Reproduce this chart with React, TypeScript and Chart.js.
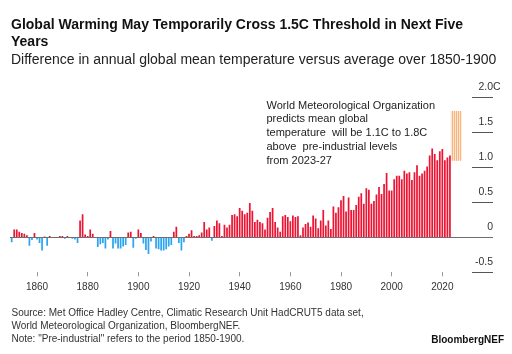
import React, { useEffect, useRef } from "react";
import { Chart, registerables } from "chart.js";

Chart.register(...registerables);

const FONT = '"Liberation Sans", Arial, sans-serif';

const FIRST_YEAR = 1850;
// Annual anomaly vs 1850-1900 average, 1850..2023
const anomalies: number[] = [
  -0.07, 0.11, 0.11, 0.08, 0.06, 0.05, 0.03, -0.12, -0.04, 0.06,
  -0.03, -0.08, -0.19, 0.01, -0.12, 0.02, 0.0, -0.01, 0.0, 0.02,
  0.02, -0.02, 0.02, -0.01, -0.02, -0.03, -0.08, 0.24, 0.33, 0.04,
  0.02, 0.11, 0.05, 0.0, -0.14, -0.1, -0.08, -0.16, -0.03, 0.09,
  -0.16, -0.09, -0.16, -0.16, -0.13, -0.11, 0.07, 0.08, -0.15, -0.02,
  0.11, 0.06, -0.09, -0.18, -0.24, -0.06, 0.02, -0.16, -0.17, -0.19,
  -0.19, -0.17, -0.13, -0.11, 0.08, 0.15, -0.08, -0.19, -0.07, 0.02,
  0.05, 0.1, 0.02, 0.02, 0.03, 0.07, 0.22, 0.11, 0.14, -0.05,
  0.16, 0.24, 0.2, 0.02, 0.18, 0.14, 0.18, 0.32, 0.33, 0.3,
  0.42, 0.38, 0.33, 0.35, 0.49, 0.38, 0.22, 0.25, 0.22, 0.2,
  0.11, 0.28, 0.36, 0.42, 0.22, 0.14, 0.08, 0.3, 0.32, 0.29,
  0.23, 0.31, 0.29, 0.3, 0.03, 0.14, 0.19, 0.21, 0.15, 0.31,
  0.27, 0.13, 0.24, 0.39, 0.17, 0.24, 0.12, 0.44, 0.35, 0.43,
  0.53, 0.59, 0.37, 0.57, 0.39, 0.39, 0.46, 0.58, 0.63, 0.48,
  0.7, 0.68, 0.48, 0.52, 0.61, 0.72, 0.62, 0.76, 0.92, 0.67,
  0.67, 0.83, 0.88, 0.88, 0.83, 0.95, 0.91, 0.93, 0.82, 0.93,
  1.03, 0.88, 0.91, 0.95, 1.01, 1.17, 1.27, 1.19, 1.1, 1.23,
  1.26, 1.1, 1.14, 1.17,
];

const projectionYears: number[] = [2024, 2025, 2026, 2027];
const projectionLow = 1.1;
const projectionHigh = 1.8;

const xTickYears: number[] = [1860, 1880, 1900, 1920, 1940, 1960, 1980, 2000, 2020];
const yTickValues: number[] = [-0.5, 0, 0.5, 1, 1.5, 2];
const yTickLabels: string[] = ["-0.5", "0", "0.5", "1.0", "1.5", "2.0"];

const titleLines = ["Global Warming May Temporarily Cross 1.5C Threshold in Next Five", "Years"];
const subtitle = "Difference in annual global mean temperature versus average over 1850-1900";
const annotationLines = [
  "World Meteorological Organization",
  "predicts mean global",
  "temperature  will be 1.1C to 1.8C",
  "above  pre-industrial levels",
  "from 2023-27",
];
const footerLines = [
  "Source: Met Office Hadley Centre, Climatic Research Unit HadCRUT5 data set,",
  "World Meteorological Organization, BloombergNEF.",
  'Note: "Pre-industrial" refers to the period 1850-1900.',
];

const RED = "#ec1433";
const BLUE = "#2ca4f0";

export default function App() {
  const ref = useRef<HTMLCanvasElement>(null);

  useEffect(() => {
    const canvas = ref.current!;
    const ctx = canvas.getContext("2d")!;
    const pc = document.createElement("canvas");
    pc.width = 2;
    pc.height = 1;
    const pctx = pc.getContext("2d")!;
    pctx.fillStyle = "#f7b47e";
    pctx.fillRect(0, 0, 1, 1);
    pctx.fillStyle = "#fde6d3";
    pctx.fillRect(1, 0, 1, 1);
    const pattern = ctx.createPattern(pc, "repeat");

    Chart.defaults.font.family = FONT;

    const refLines = {
      id: "refLines",
      afterDatasetsDraw(chart: any) {
        const { ctx: c, chartArea, scales } = chart;
        const y = scales.y;
        c.save();
        c.lineWidth = 1;
        yTickValues.forEach((v) => {
          const py = Math.round(y.getPixelForValue(v)) + 0.5;
          c.beginPath();
          c.strokeStyle = v === 0 ? "#6e6e6e" : "#555555";
          const x0 = v === 0 ? chartArea.left : chartArea.right - 21;
          c.moveTo(x0, py);
          c.lineTo(chartArea.right, py);
          c.stroke();
        });
        c.fillStyle = "#333";
        c.font = `10.5px ${FONT}`;
        c.textAlign = "left";
        c.textBaseline = "middle";
        c.fillText("C", chartArea.right, y.getPixelForValue(2) - 10.5);
        c.restore();
      },
    };

    const chart = new Chart(canvas, {
      type: "bar",
      data: {
        datasets: [
          {
            data: anomalies.map((v, i) => ({ x: FIRST_YEAR + i, y: v })),
            backgroundColor: anomalies.map((v) => (v >= 0 ? RED : BLUE)),
            barPercentage: 0.68,
            categoryPercentage: 1,
            grouped: false,
          } as any,
          {
            data: projectionYears.map((yr) => ({ x: yr, y: [projectionLow, projectionHigh] })),
            backgroundColor: pattern as any,
            barPercentage: 1,
            categoryPercentage: 1,
            grouped: false,
          } as any,
        ],
      },
      options: {
        animation: false,
        responsive: false,
        devicePixelRatio: 1,
        layout: { padding: { left: 9.9, right: 19, top: 97.3, bottom: 61.7 } },
        plugins: { legend: { display: false }, tooltip: { enabled: false }, title: { display: false } },
        scales: {
          x: {
            type: "linear",
            min: 1849.3,
            max: 2040,
            offset: false,
            afterBuildTicks: (s: any) => {
              s.ticks = xTickYears.map((v) => ({ value: v }));
            },
            afterFit: (s: any) => {
              s.height = 20;
            },
            grid: {
              offset: false,
              drawOnChartArea: false,
              drawTicks: true,
              tickLength: 4,
              color: "#999",
              lineWidth: 1,
            },
            border: { display: false },
            ticks: {
              autoSkip: false,
              maxRotation: 0,
              padding: 5,
              color: "#333",
              font: { size: 10, family: FONT },
              callback: (v: any) => String(v),
            },
          },
          y: {
            type: "linear",
            position: "right",
            min: -0.5,
            max: 2,
            afterBuildTicks: (s: any) => {
              s.ticks = yTickValues.map((v) => ({ value: v }));
            },
            afterFit: (s: any) => {
              s.width = 0;
            },
            grid: { display: false },
            border: { display: false },
            ticks: {
              mirror: true,
              padding: 0,
              labelOffset: -10.5,
              color: "#333",
              font: { size: 10.5, family: FONT },
              callback: (v: any) => {
                const i = yTickValues.indexOf(Number(v));
                return i >= 0 ? yTickLabels[i] : "";
              },
            },
          },
        },
      },
      plugins: [refLines],
    } as any);

    return () => chart.destroy();
  }, []);

  const abs: React.CSSProperties = { position: "absolute", fontFamily: FONT, whiteSpace: "pre", margin: 0 };

  return (
    <div>
      <canvas
        ref={ref}
        width={512}
        height={354}
        style={{ position: "absolute", left: 0, top: 0, width: 512, height: 354 }}
      />
      <div style={{ ...abs, left: 11, top: 15.7, fontSize: 14, lineHeight: "17px", fontWeight: "bold", color: "#111" }}>
        {titleLines.join("\n")}
      </div>
      <div style={{ ...abs, left: 11, top: 50.7, fontSize: 14, lineHeight: "17px", color: "#222" }}>{subtitle}</div>
      <div style={{ ...abs, left: 266.5, top: 98.6, fontSize: 11, lineHeight: "13.8px", color: "#222" }}>
        {annotationLines.join("\n")}
      </div>
      <div style={{ ...abs, left: 11.5, top: 306, fontSize: 10, lineHeight: "13px", color: "#333" }}>
        {footerLines.join("\n")}
      </div>
      <div style={{ ...abs, right: 8, top: 333, fontSize: 10, lineHeight: "13px", fontWeight: "bold", color: "#111" }}>
        BloombergNEF
      </div>
    </div>
  );
}
